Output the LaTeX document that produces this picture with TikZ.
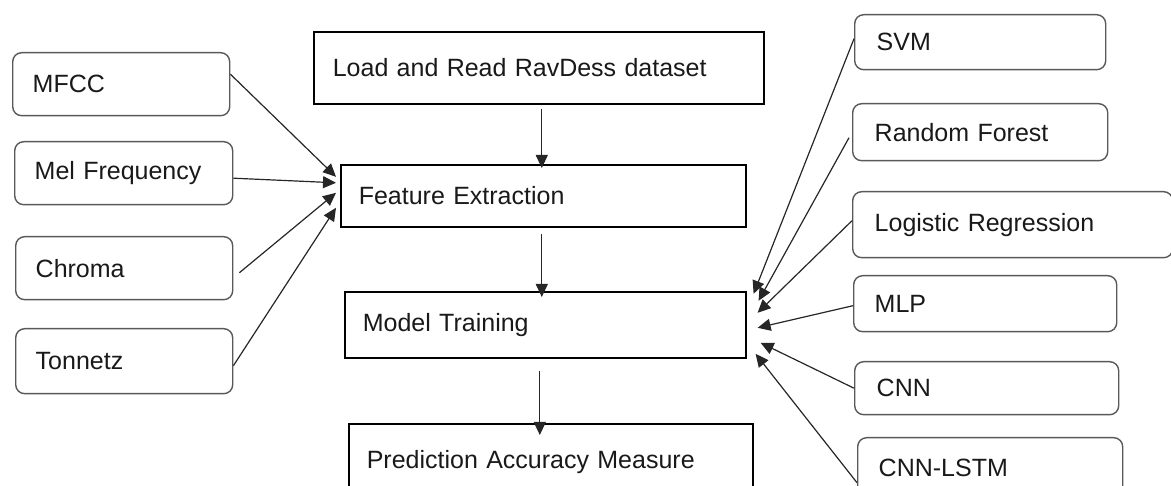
\documentclass[tikz,border=0pt]{standalone}
\usepackage{fontspec}
\setmainfont{Liberation Sans}
\usetikzlibrary{arrows.meta}
\begin{document}
\begin{tikzpicture}[x=1pt,y=-1pt,
  txt/.style={font=\fontsize{25}{30}\selectfont, align=left, anchor=north west, inner xsep=20pt, inner ysep=0pt, text=black!90},
  rbox/.style={txt, draw=black!65, line width=1.4pt, rounded corners=9pt},
  sbox/.style={txt, draw=black, line width=1.6pt},
  arr/.style={draw=black!85, line width=1.2pt, -{Triangle[length=13pt,width=12pt]}}]
\useasboundingbox (0,0) rectangle (1171,486);
\clip (0,0) rectangle (1171,486);
% left feature boxes
\node[rbox, text width=177pt, minimum height=63pt] (mfcc) at (12,52) {MFCC};
\node[rbox, text width=178pt, minimum height=63pt] (mel) at (14,141) {Mel Frequency};
\node[rbox, text width=177pt, minimum height=63pt] (chroma) at (15,236) {Chroma};
\node[rbox, text width=177pt, minimum height=65pt] (tonnetz) at (15,328) {Tonnetz};
% centre pipeline
\node[sbox, inner xsep=19pt, text width=412pt, minimum height=72pt, inner ysep=4pt] (load) at (313,31) {Load and Read RavDess dataset\\[8pt]};
\node[sbox, inner xsep=18pt, text width=369pt, minimum height=62pt] (fe) at (340,164) {Feature Extraction};
\node[sbox, inner xsep=18pt, text width=365pt, minimum height=66pt] (mt) at (344,291) {Model Training};
\node[sbox, inner xsep=18pt, text width=368pt, minimum height=76pt] (pred) at (348,423) {Prediction Accuracy Measure\\[12pt]};
% right model boxes
\node[rbox, inner xsep=22pt, text width=207pt, minimum height=55pt] (svm) at (854,14) {SVM};
\node[rbox, inner xsep=22pt, text width=211pt, minimum height=57pt] (rf) at (852,103) {Random Forest};
\node[rbox, inner xsep=22pt, text width=276pt, minimum height=66pt] (lr) at (852,191) {Logistic Regression};
\node[rbox, inner xsep=21pt, text width=221pt, minimum height=56pt] (mlp) at (853,275) {MLP};
\node[rbox, inner xsep=22pt, text width=220pt, minimum height=53pt, text depth=-6pt] (cnn) at (854,361) {CNN};
\node[rbox, inner xsep=21pt, text width=223pt, minimum height=60pt] (lstm) at (857,437) {CNN-LSTM};
% left arrows
\draw[arr] ([yshift=10pt]mfcc.east) -- ([xshift=-4pt,yshift=19pt]fe.west);
\draw[arr] ([yshift=-5pt]mel.east) -- ([xshift=-4pt,yshift=13pt]fe.west);
\draw[arr] ([xshift=6pt,yshift=-4.5pt]chroma.east) -- ([xshift=-4pt,yshift=3pt]fe.west);
\draw[arr] ([yshift=-4.5pt]tonnetz.east) -- ([xshift=-4pt,yshift=-12pt]fe.west);
% vertical arrows
\draw[arr] ([xshift=3pt,yshift=-4pt]load.south) -- ([xshift=3pt,yshift=-4pt]load.south |- fe.north);
\draw[arr] ([xshift=-1.5pt,yshift=-6pt]fe.south) -- ([xshift=-1.5pt,yshift=-6pt]fe.south |- mt.north);
\draw[arr] ([xshift=-5.5pt,yshift=-12pt]mt.south) -- ([xshift=-5.5pt,yshift=-12pt]mt.south |- pred.north);
% right arrows
\draw[arr] ([yshift=3.5pt]svm.west) -- ([xshift=7pt,yshift=31pt]mt.east);
\draw[arr] ([xshift=-3pt,yshift=-5.5pt]rf.west) -- ([xshift=12pt,yshift=24pt]mt.east);
\draw[arr] ([yshift=4pt]lr.west) -- ([xshift=11pt,yshift=12pt]mt.east);
\draw[arr] ([yshift=-2pt]mlp.west) -- ([xshift=11pt,yshift=-3pt]mt.east);
\draw[arr] (cnn.west) -- ([xshift=14pt,yshift=-18pt]mt.east);
\draw[arr] ([yshift=-15pt]lstm.west) -- ([xshift=9pt,yshift=-29pt]mt.east);
\end{tikzpicture}
\end{document}
